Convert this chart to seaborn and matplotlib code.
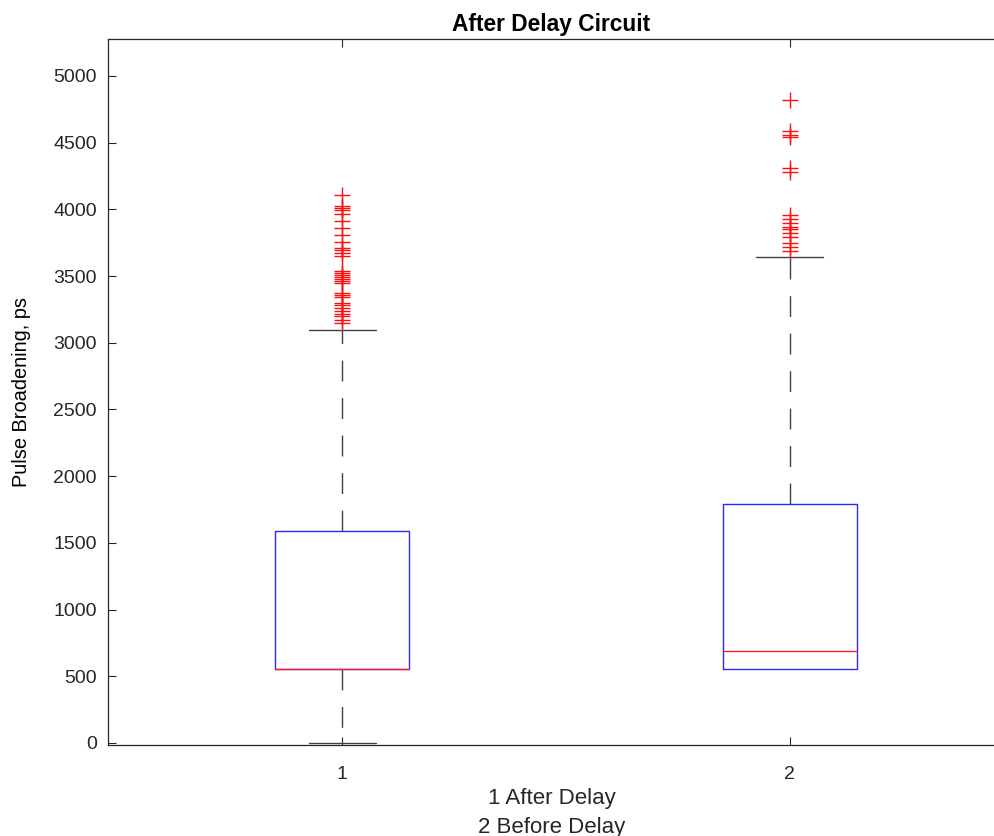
import matplotlib
matplotlib.use("Agg")
import matplotlib.pyplot as plt
from matplotlib import font_manager
import pandas as pd
import seaborn as sns

# Group labels and positions along the x axis
groups = ["1", "2"]
positions = [1, 2]

# Box-plot summary statistics (ps)
whisker_low = [0, 555]
q1 = [555, 555]
median = [555, 690]
q3 = [1590, 1795]
whisker_high = [3095, 3640]

# Points beyond the upper whisker (ps)
outliers_after = [4110, 4025, 4008, 3993, 3968, 3913, 3858, 3808, 3758, 3708,
                  3693, 3673, 3650, 3540, 3525, 3510, 3495, 3480, 3465, 3445,
                  3375, 3358, 3343, 3298, 3283, 3258, 3238, 3218, 3198, 3170,
                  3150]
outliers_before = [4820, 4590, 4560, 4540, 4310, 4280, 3960, 3930, 3900,
                   3870, 3850, 3820, 3790, 3750, 3720, 3690]

sns.set_theme(style="ticks")
plt.rcParams["font.family"] = ["Liberation Sans", "DejaVu Sans"]


def bold_sans():
    """Regular-width bold sans serif for the title."""
    for name in ["Liberation Sans", "Roboto", "Inter", "Noto Sans"]:
        for f in font_manager.fontManager.ttflist:
            if (f.name == name and f.weight in (700, "bold") and f.style == "normal"
                    and "narrow" not in f.fname.lower()
                    and "condensed" not in f.fname.lower()):
                return font_manager.FontProperties(fname=f.fname)
    return font_manager.FontProperties(family="DejaVu Sans", weight="bold")


fig = plt.figure(figsize=(9.95, 8.36), dpi=100)
ax = fig.add_axes([108 / 995, 1 - 745 / 836, 1 - 108 / 995, (745 - 39) / 836])

stats = [
    dict(label=g, whislo=lo, q1=a, med=m, q3=b, whishi=hi, fliers=[])
    for g, lo, a, m, b, hi in zip(groups, whisker_low, q1, median, q3, whisker_high)
]
art = ax.bxp(
    stats, positions=positions, widths=0.3, capwidths=0.15, showfliers=False,
    manage_ticks=False,
    boxprops=dict(color="#2a2aff", lw=1.0, zorder=3),
    medianprops=dict(color="#ff2020", lw=1.0, zorder=4),
    whiskerprops=dict(color="#404040", lw=1.0, linestyle=(0, (15, 12)), zorder=2),
    capprops=dict(color="#404040", lw=1.0, zorder=1),
)
# a zero-length lower whisker sits under the box edge
for i, (lo, a) in enumerate(zip(whisker_low, q1)):
    if lo == a:
        art["caps"][2 * i].set_visible(False)

flier_df = pd.DataFrame({
    "pos": [positions[0]] * len(outliers_after) + [positions[1]] * len(outliers_before),
    "value": outliers_after + outliers_before,
})
sns.scatterplot(data=flier_df, x="pos", y="value", marker="+", color="#ff1010",
                s=120, linewidth=1.0, ax=ax, zorder=5, legend=False)

ax.set_xlim(0.4765, 2.4585)
ax.set_ylim(-15, 5277)
ax.set_xticks(positions)
ax.set_xticklabels(groups)
ax.set_yticks(range(0, 5001, 500))
ax.tick_params(direction="in", length=6, width=0.8, colors="#262626",
               labelsize=14, top=True, right=False)
ax.tick_params(axis="y", pad=8)
ax.tick_params(axis="x", pad=15)
for side in ["left", "top", "bottom"]:
    ax.spines[side].set_color("#262626")
    ax.spines[side].set_linewidth(0.9)
ax.spines["right"].set_visible(False)

ax.set_title("After Delay Circuit", fontproperties=bold_sans(), fontsize=16.4,
             color="black", pad=6)
ax.set_xlabel("1 After Delay\n2 Before Delay", fontsize=16, color="#262626",
              labelpad=4, linespacing=1.45)
ax.set_ylabel("Pulse Broadening, ps", fontsize=14.4, color="black", labelpad=16)

fig.savefig("out.png", dpi=100)
